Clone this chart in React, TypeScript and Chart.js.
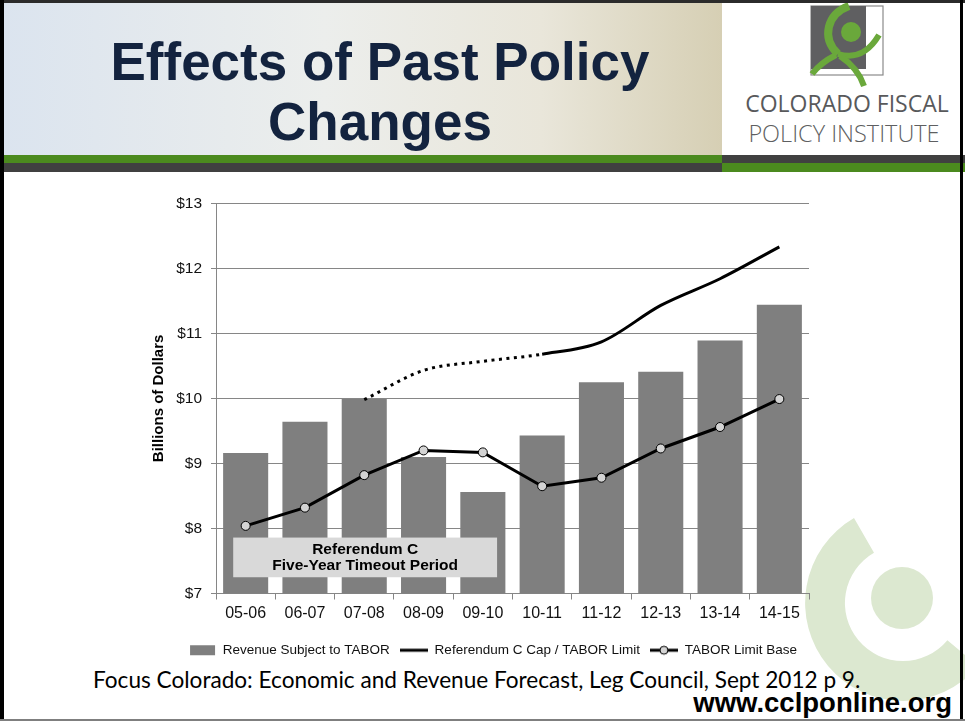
import React, { useEffect, useRef } from 'react';
import { Chart, registerables } from 'chart.js';

Chart.register(...registerables);

// ---------- data ----------
const categories = ['05-06', '06-07', '07-08', '08-09', '09-10', '10-11', '11-12', '12-13', '13-14', '14-15'];
const revenueSubjectToTabor = [9.16, 9.64, 9.99, 9.1, 8.56, 9.43, 10.25, 10.41, 10.89, 11.44];
const refCCapTaborLimit = [null, null, 9.98, 10.43, 10.57, 10.68, 10.87, 11.43, 11.84, 12.33];
const taborLimitBase = [8.04, 8.32, 8.82, 9.2, 9.17, 8.65, 8.78, 9.23, 9.56, 9.99];
const projectedThroughIndex = 5; // Ref C cap is dotted up to 10-11
const yTicks = [7, 8, 9, 10, 11, 12, 13];
const seriesLabels = ['Revenue Subject to TABOR', 'Referendum C Cap / TABOR Limit', 'TABOR Limit Base'];
const annotationLines = ['Referendum C', 'Five-Year Timeout Period'];
const timeoutSpan = { fromIndex: -0.21, toIndex: 4.24, top: 7.86, bottom: 7.25 };

const FONT = 'Arial, "Liberation Sans", sans-serif';

function makeIcon(kind: string) {
  const c = document.createElement('canvas');
  c.width = 28;
  c.height = 12;
  const g = c.getContext('2d')!;
  if (kind === 'bar') {
    g.fillStyle = '#7f7f7f';
    g.fillRect(2, 1, 25, 10);
  } else {
    g.strokeStyle = '#000';
    g.lineWidth = 3;
    g.beginPath();
    g.moveTo(0, 6);
    g.lineTo(28, 6);
    g.stroke();
    if (kind === 'marker') {
      g.beginPath();
      g.arc(14, 6, 4, 0, Math.PI * 2);
      g.fillStyle = '#d4d4d4';
      g.fill();
      g.lineWidth = 1;
      g.stroke();
    }
  }
  return c;
}

const timeoutBoxPlugin = {
  id: 'timeoutBox',
  afterDatasetDraw(chart: any, args: any) {
    if (args.meta.type !== 'bar') return;
    const { ctx, scales } = chart;
    const x = scales.x;
    const y = scales.y;
    const l = x.getPixelForValue(timeoutSpan.fromIndex);
    const r = x.getPixelForValue(timeoutSpan.toIndex);
    const t = y.getPixelForValue(timeoutSpan.top);
    const b = y.getPixelForValue(timeoutSpan.bottom);
    ctx.save();
    ctx.fillStyle = '#d9d9d9';
    ctx.fillRect(l, t, r - l, b - t);
    ctx.fillStyle = '#000';
    ctx.font = `bold 15.5px ${FONT}`;
    ctx.textAlign = 'center';
    ctx.textBaseline = 'middle';
    const cx = (l + r) / 2;
    const lh = (b - t) / 2.25;
    ctx.fillText(annotationLines[0], cx, t + lh * 0.68);
    ctx.fillText(annotationLines[1], cx, t + lh * 1.6);
    ctx.restore();
  },
};

export default function App() {
  const ref = useRef<HTMLCanvasElement>(null);

  useEffect(() => {
    const icons = [makeIcon('bar'), makeIcon('line'), makeIcon('marker')];
    const chart = new Chart(ref.current!, {
      type: 'bar',
      data: {
        labels: categories,
        datasets: [
          {
            type: 'bar',
            label: seriesLabels[0],
            data: revenueSubjectToTabor,
            backgroundColor: '#7f7f7f',
            borderWidth: 0,
            barPercentage: 1,
            categoryPercentage: 0.76,
            order: 3,
          },
          {
            type: 'line',
            label: seriesLabels[1],
            data: refCCapTaborLimit as any,
            borderColor: '#000',
            borderWidth: 3,
            pointRadius: 0,
            cubicInterpolationMode: 'monotone',
            segment: {
              borderDash: (c: any) => (c.p1DataIndex <= projectedThroughIndex ? [3, 4.5] : undefined),
            },
            order: 1,
          },
          {
            type: 'line',
            label: seriesLabels[2],
            data: taborLimitBase,
            borderColor: '#000',
            borderWidth: 3,
            tension: 0,
            pointRadius: 4.5,
            pointBackgroundColor: '#d4d4d4',
            pointBorderColor: '#000',
            pointBorderWidth: 1,
            order: 2,
          },
        ] as any,
      },
      options: {
        animation: false,
        responsive: true,
        maintainAspectRatio: false,
        devicePixelRatio: 1,
        layout: { padding: { top: 18, left: 0, right: 0, bottom: 0 } },
        plugins: {
          tooltip: { enabled: false },
          legend: {
            position: 'bottom',
            labels: {
              usePointStyle: true,
              pointStyleWidth: 28,
              padding: 10,
              color: '#111',
              font: { family: FONT, size: 13.5 },
              generateLabels: () =>
                seriesLabels.map((text, i) => ({
                  text,
                  pointStyle: icons[i],
                  datasetIndex: i,
                  hidden: false,
                  lineWidth: 0,
                  fillStyle: 'transparent',
                  strokeStyle: 'transparent',
                  fontColor: '#111',
                })) as any,
            },
          },
        },
        scales: {
          x: {
            offset: true,
            ticks: { font: { family: FONT, size: 16 }, color: '#111', padding: 4, maxRotation: 0 },
            grid: { offset: true, drawOnChartArea: false, tickLength: 6, color: '#868686' },
            border: { color: '#868686' },
            afterFit: (s: any) => {
              s.height = 40;
            },
          },
          y: {
            min: 7,
            max: 13,
            afterBuildTicks: (s: any) => {
              s.ticks = yTicks.map((v) => ({ value: v }));
            },
            ticks: {
              font: { family: FONT, size: 15.5 },
              color: '#111',
              padding: 9,
              callback: (v: any) => '$' + v,
            },
            grid: { color: '#868686', tickLength: 5 },
            border: { color: '#868686' },
            title: {
              display: true,
              text: 'Billions of Dollars',
              color: '#000',
              font: { family: FONT, size: 15, weight: 'bold' },
              padding: { top: 10, bottom: 0 },
            },
            afterFit: (s: any) => {
              s.width = 76;
            },
          },
          yRight: {
            position: 'right',
            display: true,
            grid: { display: false },
            border: { display: false },
            ticks: { display: false },
            afterFit: (s: any) => {
              s.width = 36;
            },
          },
        },
      } as any,
      plugins: [timeoutBoxPlugin],
    });
    return () => chart.destroy();
  }, []);

  const sector = 'M854,518.1 A98,98 0 1 0 978.1,666 L947.4,640.3 A58,58 0 1 1 874,552.8 Z';

  return (
    <div
      style={{
        position: 'fixed',
        left: 0,
        top: 0,
        width: 965,
        height: 721,
        overflow: 'hidden',
        background: '#fff',
      }}
    >
      <svg width={965} height={721} style={{ position: 'absolute', left: 0, top: 0 }}>
        <defs>
          <linearGradient id="hdr" x1="0" y1="0" x2="1" y2="0">
            <stop offset="0" stopColor="#dbe4ef" />
            <stop offset="0.45" stopColor="#eceeec" />
            <stop offset="0.75" stopColor="#e9e6da" />
            <stop offset="1" stopColor="#d6cfb4" />
          </linearGradient>
        </defs>
        <rect x={0} y={0} width={722} height={155} fill="url(#hdr)" />
        <rect x={722} y={0} width={243} height={155} fill="#fff" />
        <rect x={0} y={155} width={722} height={8} fill="#4b8a1e" />
        <rect x={0} y={163} width={722} height={9} fill="#404040" />
        <rect x={722} y={155} width={243} height={8} fill="#404040" />
        <rect x={722} y={163} width={243} height={9} fill="#4b8a1e" />

        {/* logo */}
        <rect x={811} y={6} width={72} height={69} fill="#fff" stroke="#8a8a8a" strokeWidth={1.2} />
        <rect x={811} y={6} width={55} height={63} fill="#5f5f61" />
        <circle cx={851} cy={32} r={10} fill="#6aa83b" />
        <path d="M849,6 C827,14 821,38 838,54" stroke="#6aa83b" strokeWidth={8} fill="none" />
        <path d="M838,54 C858,60 870,50 879,35" stroke="#6aa83b" strokeWidth={6} fill="none" />
        <path d="M836,55 C826,60 818,66 812,74" stroke="#6aa83b" strokeWidth={6} fill="none" />
        <path d="M840,56 C852,64 860,74 864,86" stroke="#6aa83b" strokeWidth={6} fill="none" />

        <text x={847} y={112} textAnchor="middle" fontFamily='"Open Sans", sans-serif' fontSize={23} fill="#58595b">
          COLORADO FISCAL
        </text>
        <text x={844} y={142} textAnchor="middle" fontFamily='"Open Sans", sans-serif' fontWeight={300} fontSize={23.5} fill="#5e5f61">
          POLICY INSTITUTE
        </text>

        {/* title */}
        <text x={380} y={80} textAnchor="middle" fontFamily={FONT} fontWeight="bold" fontSize={53} fill="#13233f">
          Effects of Past Policy
        </text>
        <text x={380} y={140} textAnchor="middle" fontFamily={FONT} fontWeight="bold" fontSize={53} fill="#13233f">
          Changes
        </text>

        {/* watermark */}
        <path d={sector} fill="#dce8d0" />
        <circle cx={902} cy={598} r={31} fill="#dce8d0" />

        {/* footer */}
        <text x={93} y={688} fontFamily='Lato, "Open Sans", sans-serif' fontSize={22.6} fill="#000">
          Focus Colorado: Economic and Revenue Forecast, Leg Council, Sept 2012 p 9.
        </text>
        <text x={952} y={712} textAnchor="end" fontFamily={FONT} fontWeight="bold" fontSize={27.5} fill="#000">
          www.cclponline.org
        </text>
      </svg>

      <div style={{ position: 'absolute', left: 140, top: 185, width: 705, height: 482 }}>
        <canvas ref={ref} />
      </div>

      <svg width={965} height={721} style={{ position: 'absolute', left: 0, top: 0, pointerEvents: 'none' }}>
        <rect x={0} y={0} width={965} height={3} fill="#2b2b2b" />
        <rect x={0} y={0} width={4} height={721} fill="#000" />
        <rect x={960} y={0} width={3} height={721} fill="#000" />
        <rect x={0} y={719} width={965} height={2} fill="#7f7f7f" />
      </svg>
    </div>
  );
}
